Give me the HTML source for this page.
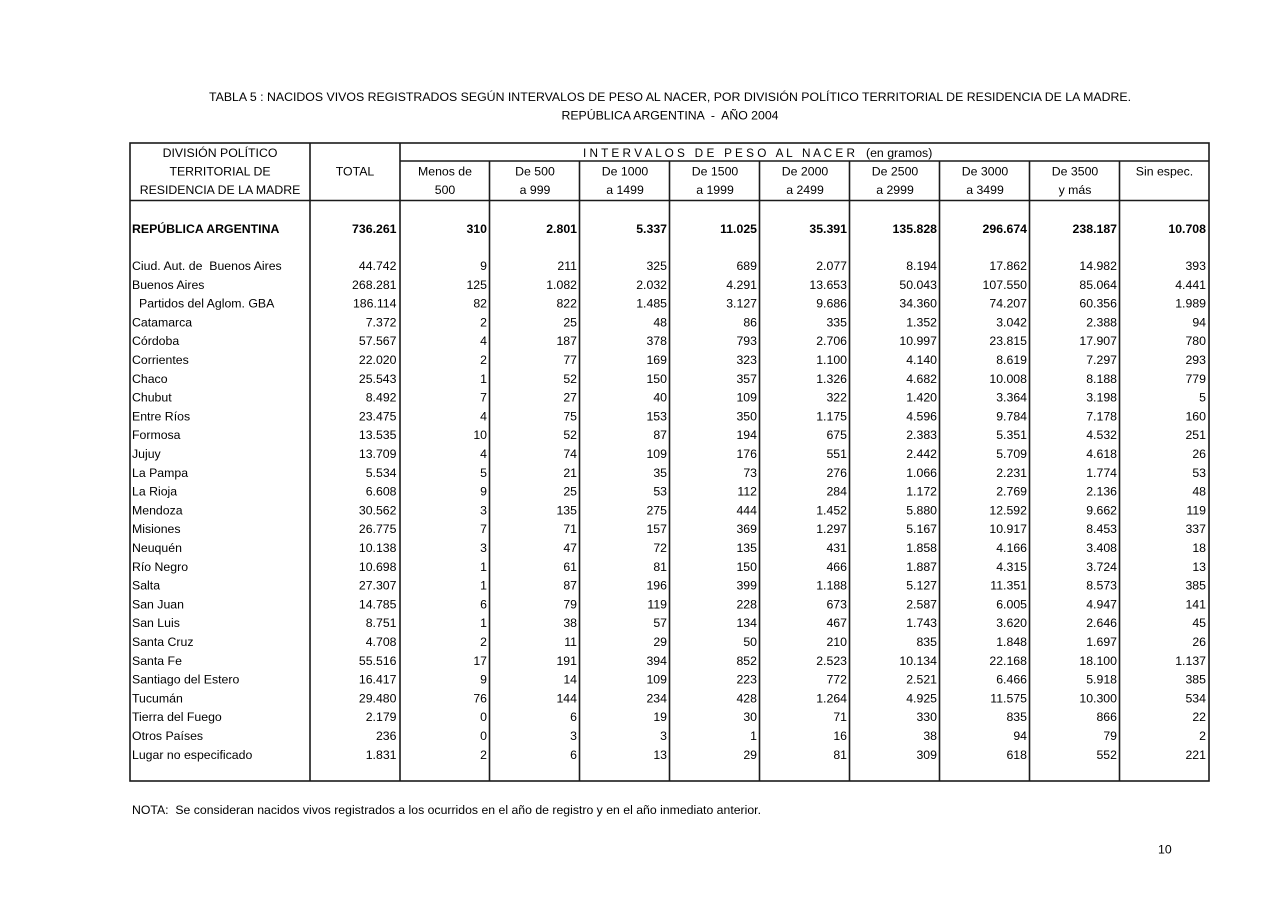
<!DOCTYPE html>
<html><head><meta charset="utf-8"><style>
html,body{margin:0;padding:0;background:#fff;}
svg{display:block;font-family:"Liberation Sans",Arial,sans-serif;}
text{fill:#000;font-size:12.3px;white-space:pre;}
.c{text-anchor:middle;}
.r{text-anchor:end;}
.b{font-weight:bold;}
</style></head><body>
<svg width="1280" height="905" viewBox="0 0 1280 905" xmlns="http://www.w3.org/2000/svg" xml:space="preserve">
<rect width="1280" height="905" fill="#fff"/>
<text x="670" y="101" class="c" textLength="922" lengthAdjust="spacingAndGlyphs">TABLA 5 : NACIDOS VIVOS REGISTRADOS SEGÚN INTERVALOS DE PESO AL NACER, POR DIVISIÓN POLÍTICO TERRITORIAL DE RESIDENCIA DE LA MADRE.</text>
<text x="670" y="119.5" class="c" textLength="217" lengthAdjust="spacingAndGlyphs">REPÚBLICA ARGENTINA  -  AÑO 2004</text>
<g stroke="#1a1a1a" stroke-width="1.6" fill="none">
<rect x="130" y="143" width="1079" height="638"/>
<line x1="310" y1="143" x2="310" y2="781"/>
<line x1="400" y1="143" x2="400" y2="781"/>
<line x1="400" y1="161" x2="1209" y2="161"/>
<line x1="130" y1="200.5" x2="1209" y2="200.5"/>
<line x1="489.5" y1="161" x2="489.5" y2="781"/>
<line x1="579.5" y1="161" x2="579.5" y2="781"/>
<line x1="669.5" y1="161" x2="669.5" y2="781"/>
<line x1="759.5" y1="161" x2="759.5" y2="781"/>
<line x1="849.5" y1="161" x2="849.5" y2="781"/>
<line x1="939.5" y1="161" x2="939.5" y2="781"/>
<line x1="1029.5" y1="161" x2="1029.5" y2="781"/>
<line x1="1119.5" y1="161" x2="1119.5" y2="781"/>
</g>
<text x="220" y="157" class="c">DIVISIÓN POLÍTICO</text>
<text x="220" y="175.5" class="c">TERRITORIAL DE</text>
<text x="220" y="194" class="c">RESIDENCIA DE LA MADRE</text>
<text x="355" y="175.5" class="c">TOTAL</text>
<text x="583" y="157" textLength="272" lengthAdjust="spacingAndGlyphs">I N T E R V A L O S   D E   P E S O   A L   N A C E R</text>
<text x="866" y="157">(en gramos)</text>
<text x="445" y="175.5" class="c">Menos de</text><text x="445" y="194" class="c">500</text>
<text x="535" y="175.5" class="c">De 500</text><text x="535" y="194" class="c">a 999</text>
<text x="625" y="175.5" class="c">De 1000</text><text x="625" y="194" class="c">a 1499</text>
<text x="715" y="175.5" class="c">De 1500</text><text x="715" y="194" class="c">a 1999</text>
<text x="805" y="175.5" class="c">De 2000</text><text x="805" y="194" class="c">a 2499</text>
<text x="895" y="175.5" class="c">De 2500</text><text x="895" y="194" class="c">a 2999</text>
<text x="985" y="175.5" class="c">De 3000</text><text x="985" y="194" class="c">a 3499</text>
<text x="1075" y="175.5" class="c">De 3500</text><text x="1075" y="194" class="c">y más</text>
<text x="1164.5" y="175.5" class="c">Sin espec.</text>
<text x="132" y="233" class="b">REPÚBLICA ARGENTINA</text>
<text x="396.5" y="233" class="r b">736.261</text>
<text x="487" y="233" class="r b">310</text>
<text x="577" y="233" class="r b">2.801</text>
<text x="667" y="233" class="r b">5.337</text>
<text x="757" y="233" class="r b">11.025</text>
<text x="847" y="233" class="r b">35.391</text>
<text x="937" y="233" class="r b">135.828</text>
<text x="1027" y="233" class="r b">296.674</text>
<text x="1117" y="233" class="r b">238.187</text>
<text x="1206" y="233" class="r b">10.708</text>
<text><tspan x="132" y="270">Ciud. Aut. de  Buenos Aires</tspan><tspan x="132" y="288.8">Buenos Aires</tspan><tspan x="139" y="307.6">Partidos del Aglom. GBA</tspan><tspan x="132" y="326.4">Catamarca</tspan><tspan x="132" y="345.2">Córdoba</tspan><tspan x="132" y="364">Corrientes</tspan><tspan x="132" y="382.8">Chaco</tspan><tspan x="132" y="401.6">Chubut</tspan><tspan x="132" y="420.4">Entre Ríos</tspan><tspan x="132" y="439.2">Formosa</tspan><tspan x="132" y="458">Jujuy</tspan><tspan x="132" y="476.8">La Pampa</tspan><tspan x="132" y="495.6">La Rioja</tspan><tspan x="132" y="514.4">Mendoza</tspan><tspan x="132" y="533.2">Misiones</tspan><tspan x="132" y="552">Neuquén</tspan><tspan x="132" y="570.8">Río Negro</tspan><tspan x="132" y="589.6">Salta</tspan><tspan x="132" y="608.4">San Juan</tspan><tspan x="132" y="627.2">San Luis</tspan><tspan x="132" y="646">Santa Cruz</tspan><tspan x="132" y="664.8">Santa Fe</tspan><tspan x="132" y="683.6">Santiago del Estero</tspan><tspan x="132" y="702.4">Tucumán</tspan><tspan x="132" y="721.2">Tierra del Fuego</tspan><tspan x="132" y="740">Otros Países</tspan><tspan x="132" y="758.8">Lugar no especificado</tspan></text>
<text class="r"><tspan x="396.5" y="270">44.742</tspan><tspan x="396.5" y="288.8">268.281</tspan><tspan x="396.5" y="307.6">186.114</tspan><tspan x="396.5" y="326.4">7.372</tspan><tspan x="396.5" y="345.2">57.567</tspan><tspan x="396.5" y="364">22.020</tspan><tspan x="396.5" y="382.8">25.543</tspan><tspan x="396.5" y="401.6">8.492</tspan><tspan x="396.5" y="420.4">23.475</tspan><tspan x="396.5" y="439.2">13.535</tspan><tspan x="396.5" y="458">13.709</tspan><tspan x="396.5" y="476.8">5.534</tspan><tspan x="396.5" y="495.6">6.608</tspan><tspan x="396.5" y="514.4">30.562</tspan><tspan x="396.5" y="533.2">26.775</tspan><tspan x="396.5" y="552">10.138</tspan><tspan x="396.5" y="570.8">10.698</tspan><tspan x="396.5" y="589.6">27.307</tspan><tspan x="396.5" y="608.4">14.785</tspan><tspan x="396.5" y="627.2">8.751</tspan><tspan x="396.5" y="646">4.708</tspan><tspan x="396.5" y="664.8">55.516</tspan><tspan x="396.5" y="683.6">16.417</tspan><tspan x="396.5" y="702.4">29.480</tspan><tspan x="396.5" y="721.2">2.179</tspan><tspan x="396.5" y="740">236</tspan><tspan x="396.5" y="758.8">1.831</tspan></text>
<text class="r"><tspan x="487" y="270">9</tspan><tspan x="487" y="288.8">125</tspan><tspan x="487" y="307.6">82</tspan><tspan x="487" y="326.4">2</tspan><tspan x="487" y="345.2">4</tspan><tspan x="487" y="364">2</tspan><tspan x="487" y="382.8">1</tspan><tspan x="487" y="401.6">7</tspan><tspan x="487" y="420.4">4</tspan><tspan x="487" y="439.2">10</tspan><tspan x="487" y="458">4</tspan><tspan x="487" y="476.8">5</tspan><tspan x="487" y="495.6">9</tspan><tspan x="487" y="514.4">3</tspan><tspan x="487" y="533.2">7</tspan><tspan x="487" y="552">3</tspan><tspan x="487" y="570.8">1</tspan><tspan x="487" y="589.6">1</tspan><tspan x="487" y="608.4">6</tspan><tspan x="487" y="627.2">1</tspan><tspan x="487" y="646">2</tspan><tspan x="487" y="664.8">17</tspan><tspan x="487" y="683.6">9</tspan><tspan x="487" y="702.4">76</tspan><tspan x="487" y="721.2">0</tspan><tspan x="487" y="740">0</tspan><tspan x="487" y="758.8">2</tspan></text>
<text class="r"><tspan x="577" y="270">211</tspan><tspan x="577" y="288.8">1.082</tspan><tspan x="577" y="307.6">822</tspan><tspan x="577" y="326.4">25</tspan><tspan x="577" y="345.2">187</tspan><tspan x="577" y="364">77</tspan><tspan x="577" y="382.8">52</tspan><tspan x="577" y="401.6">27</tspan><tspan x="577" y="420.4">75</tspan><tspan x="577" y="439.2">52</tspan><tspan x="577" y="458">74</tspan><tspan x="577" y="476.8">21</tspan><tspan x="577" y="495.6">25</tspan><tspan x="577" y="514.4">135</tspan><tspan x="577" y="533.2">71</tspan><tspan x="577" y="552">47</tspan><tspan x="577" y="570.8">61</tspan><tspan x="577" y="589.6">87</tspan><tspan x="577" y="608.4">79</tspan><tspan x="577" y="627.2">38</tspan><tspan x="577" y="646">11</tspan><tspan x="577" y="664.8">191</tspan><tspan x="577" y="683.6">14</tspan><tspan x="577" y="702.4">144</tspan><tspan x="577" y="721.2">6</tspan><tspan x="577" y="740">3</tspan><tspan x="577" y="758.8">6</tspan></text>
<text class="r"><tspan x="667" y="270">325</tspan><tspan x="667" y="288.8">2.032</tspan><tspan x="667" y="307.6">1.485</tspan><tspan x="667" y="326.4">48</tspan><tspan x="667" y="345.2">378</tspan><tspan x="667" y="364">169</tspan><tspan x="667" y="382.8">150</tspan><tspan x="667" y="401.6">40</tspan><tspan x="667" y="420.4">153</tspan><tspan x="667" y="439.2">87</tspan><tspan x="667" y="458">109</tspan><tspan x="667" y="476.8">35</tspan><tspan x="667" y="495.6">53</tspan><tspan x="667" y="514.4">275</tspan><tspan x="667" y="533.2">157</tspan><tspan x="667" y="552">72</tspan><tspan x="667" y="570.8">81</tspan><tspan x="667" y="589.6">196</tspan><tspan x="667" y="608.4">119</tspan><tspan x="667" y="627.2">57</tspan><tspan x="667" y="646">29</tspan><tspan x="667" y="664.8">394</tspan><tspan x="667" y="683.6">109</tspan><tspan x="667" y="702.4">234</tspan><tspan x="667" y="721.2">19</tspan><tspan x="667" y="740">3</tspan><tspan x="667" y="758.8">13</tspan></text>
<text class="r"><tspan x="757" y="270">689</tspan><tspan x="757" y="288.8">4.291</tspan><tspan x="757" y="307.6">3.127</tspan><tspan x="757" y="326.4">86</tspan><tspan x="757" y="345.2">793</tspan><tspan x="757" y="364">323</tspan><tspan x="757" y="382.8">357</tspan><tspan x="757" y="401.6">109</tspan><tspan x="757" y="420.4">350</tspan><tspan x="757" y="439.2">194</tspan><tspan x="757" y="458">176</tspan><tspan x="757" y="476.8">73</tspan><tspan x="757" y="495.6">112</tspan><tspan x="757" y="514.4">444</tspan><tspan x="757" y="533.2">369</tspan><tspan x="757" y="552">135</tspan><tspan x="757" y="570.8">150</tspan><tspan x="757" y="589.6">399</tspan><tspan x="757" y="608.4">228</tspan><tspan x="757" y="627.2">134</tspan><tspan x="757" y="646">50</tspan><tspan x="757" y="664.8">852</tspan><tspan x="757" y="683.6">223</tspan><tspan x="757" y="702.4">428</tspan><tspan x="757" y="721.2">30</tspan><tspan x="757" y="740">1</tspan><tspan x="757" y="758.8">29</tspan></text>
<text class="r"><tspan x="847" y="270">2.077</tspan><tspan x="847" y="288.8">13.653</tspan><tspan x="847" y="307.6">9.686</tspan><tspan x="847" y="326.4">335</tspan><tspan x="847" y="345.2">2.706</tspan><tspan x="847" y="364">1.100</tspan><tspan x="847" y="382.8">1.326</tspan><tspan x="847" y="401.6">322</tspan><tspan x="847" y="420.4">1.175</tspan><tspan x="847" y="439.2">675</tspan><tspan x="847" y="458">551</tspan><tspan x="847" y="476.8">276</tspan><tspan x="847" y="495.6">284</tspan><tspan x="847" y="514.4">1.452</tspan><tspan x="847" y="533.2">1.297</tspan><tspan x="847" y="552">431</tspan><tspan x="847" y="570.8">466</tspan><tspan x="847" y="589.6">1.188</tspan><tspan x="847" y="608.4">673</tspan><tspan x="847" y="627.2">467</tspan><tspan x="847" y="646">210</tspan><tspan x="847" y="664.8">2.523</tspan><tspan x="847" y="683.6">772</tspan><tspan x="847" y="702.4">1.264</tspan><tspan x="847" y="721.2">71</tspan><tspan x="847" y="740">16</tspan><tspan x="847" y="758.8">81</tspan></text>
<text class="r"><tspan x="937" y="270">8.194</tspan><tspan x="937" y="288.8">50.043</tspan><tspan x="937" y="307.6">34.360</tspan><tspan x="937" y="326.4">1.352</tspan><tspan x="937" y="345.2">10.997</tspan><tspan x="937" y="364">4.140</tspan><tspan x="937" y="382.8">4.682</tspan><tspan x="937" y="401.6">1.420</tspan><tspan x="937" y="420.4">4.596</tspan><tspan x="937" y="439.2">2.383</tspan><tspan x="937" y="458">2.442</tspan><tspan x="937" y="476.8">1.066</tspan><tspan x="937" y="495.6">1.172</tspan><tspan x="937" y="514.4">5.880</tspan><tspan x="937" y="533.2">5.167</tspan><tspan x="937" y="552">1.858</tspan><tspan x="937" y="570.8">1.887</tspan><tspan x="937" y="589.6">5.127</tspan><tspan x="937" y="608.4">2.587</tspan><tspan x="937" y="627.2">1.743</tspan><tspan x="937" y="646">835</tspan><tspan x="937" y="664.8">10.134</tspan><tspan x="937" y="683.6">2.521</tspan><tspan x="937" y="702.4">4.925</tspan><tspan x="937" y="721.2">330</tspan><tspan x="937" y="740">38</tspan><tspan x="937" y="758.8">309</tspan></text>
<text class="r"><tspan x="1027" y="270">17.862</tspan><tspan x="1027" y="288.8">107.550</tspan><tspan x="1027" y="307.6">74.207</tspan><tspan x="1027" y="326.4">3.042</tspan><tspan x="1027" y="345.2">23.815</tspan><tspan x="1027" y="364">8.619</tspan><tspan x="1027" y="382.8">10.008</tspan><tspan x="1027" y="401.6">3.364</tspan><tspan x="1027" y="420.4">9.784</tspan><tspan x="1027" y="439.2">5.351</tspan><tspan x="1027" y="458">5.709</tspan><tspan x="1027" y="476.8">2.231</tspan><tspan x="1027" y="495.6">2.769</tspan><tspan x="1027" y="514.4">12.592</tspan><tspan x="1027" y="533.2">10.917</tspan><tspan x="1027" y="552">4.166</tspan><tspan x="1027" y="570.8">4.315</tspan><tspan x="1027" y="589.6">11.351</tspan><tspan x="1027" y="608.4">6.005</tspan><tspan x="1027" y="627.2">3.620</tspan><tspan x="1027" y="646">1.848</tspan><tspan x="1027" y="664.8">22.168</tspan><tspan x="1027" y="683.6">6.466</tspan><tspan x="1027" y="702.4">11.575</tspan><tspan x="1027" y="721.2">835</tspan><tspan x="1027" y="740">94</tspan><tspan x="1027" y="758.8">618</tspan></text>
<text class="r"><tspan x="1117" y="270">14.982</tspan><tspan x="1117" y="288.8">85.064</tspan><tspan x="1117" y="307.6">60.356</tspan><tspan x="1117" y="326.4">2.388</tspan><tspan x="1117" y="345.2">17.907</tspan><tspan x="1117" y="364">7.297</tspan><tspan x="1117" y="382.8">8.188</tspan><tspan x="1117" y="401.6">3.198</tspan><tspan x="1117" y="420.4">7.178</tspan><tspan x="1117" y="439.2">4.532</tspan><tspan x="1117" y="458">4.618</tspan><tspan x="1117" y="476.8">1.774</tspan><tspan x="1117" y="495.6">2.136</tspan><tspan x="1117" y="514.4">9.662</tspan><tspan x="1117" y="533.2">8.453</tspan><tspan x="1117" y="552">3.408</tspan><tspan x="1117" y="570.8">3.724</tspan><tspan x="1117" y="589.6">8.573</tspan><tspan x="1117" y="608.4">4.947</tspan><tspan x="1117" y="627.2">2.646</tspan><tspan x="1117" y="646">1.697</tspan><tspan x="1117" y="664.8">18.100</tspan><tspan x="1117" y="683.6">5.918</tspan><tspan x="1117" y="702.4">10.300</tspan><tspan x="1117" y="721.2">866</tspan><tspan x="1117" y="740">79</tspan><tspan x="1117" y="758.8">552</tspan></text>
<text class="r"><tspan x="1206" y="270">393</tspan><tspan x="1206" y="288.8">4.441</tspan><tspan x="1206" y="307.6">1.989</tspan><tspan x="1206" y="326.4">94</tspan><tspan x="1206" y="345.2">780</tspan><tspan x="1206" y="364">293</tspan><tspan x="1206" y="382.8">779</tspan><tspan x="1206" y="401.6">5</tspan><tspan x="1206" y="420.4">160</tspan><tspan x="1206" y="439.2">251</tspan><tspan x="1206" y="458">26</tspan><tspan x="1206" y="476.8">53</tspan><tspan x="1206" y="495.6">48</tspan><tspan x="1206" y="514.4">119</tspan><tspan x="1206" y="533.2">337</tspan><tspan x="1206" y="552">18</tspan><tspan x="1206" y="570.8">13</tspan><tspan x="1206" y="589.6">385</tspan><tspan x="1206" y="608.4">141</tspan><tspan x="1206" y="627.2">45</tspan><tspan x="1206" y="646">26</tspan><tspan x="1206" y="664.8">1.137</tspan><tspan x="1206" y="683.6">385</tspan><tspan x="1206" y="702.4">534</tspan><tspan x="1206" y="721.2">22</tspan><tspan x="1206" y="740">2</tspan><tspan x="1206" y="758.8">221</tspan></text>
<text x="132" y="814" textLength="629" lengthAdjust="spacingAndGlyphs">NOTA:  Se consideran nacidos vivos registrados a los ocurridos en el año de registro y en el año inmediato anterior.</text>
<text x="1158" y="853.5">10</text>
</svg>
</body></html>
